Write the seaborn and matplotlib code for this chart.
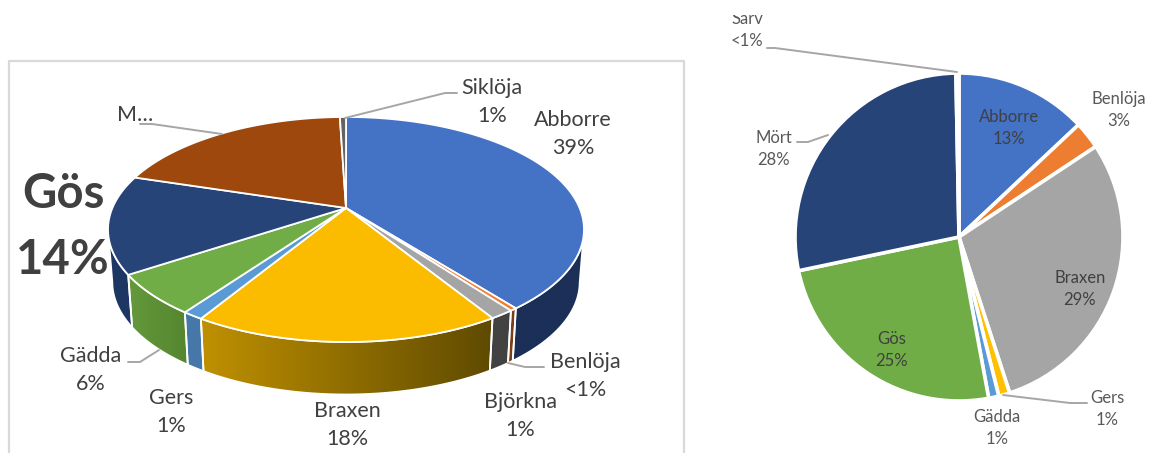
import numpy as np
import matplotlib
matplotlib.use("Agg")
import matplotlib.pyplot as plt
import matplotlib.transforms as mtransforms
from matplotlib.colors import LinearSegmentedColormap
from matplotlib.patches import Polygon
from matplotlib.path import Path
import seaborn as sns

# ---- data ----
left_species = ["Abborre", "Benlöja", "Björkna", "Braxen", "Gers", "Gädda", "Gös", "Mört", "Siklöja"]
left_values = [39.4, 0.4, 1.4, 17.5, 1.2, 5.8, 14.1, 19.7, 0.5]
left_pct = ["39%", "<1%", "1%", "18%", "1%", "6%", "14%", "", "1%"]
right_species = ["Abborre", "Benlöja", "Braxen", "Gers", "Gädda", "Gös", "Mört", "Sarv"]
right_values = [13.0, 2.7, 29.3, 1.1, 1.0, 24.6, 28.0, 0.3]
right_pct = ["13%", "3%", "29%", "1%", "1%", "25%", "28%", "<1%"]

# ---- styles ----
left_colors = sns.color_palette(["#4472C4", "#ED7D31", "#A5A5A5", "#FBBC00", "#5B9BD5",
                                 "#70AD47", "#264478", "#9E480E", "#636363"])
left_wall = [("#1B2F57", "#1B2F57"), ("#7A3F18", "#7A3F18"), ("#424242", "#424242"),
             ("#BF9000", "#5F4A00"), ("#4678A8", "#4678A8"), ("#64993C", "#55862F"),
             ("#1D3763", "#1D3763"), ("#5E2B08", "#5E2B08"), ("#3A3A3A", "#3A3A3A")]
right_colors = sns.color_palette(["#4472C4", "#ED7D31", "#A5A5A5", "#FFC000", "#5B9BD5",
                                  "#70AD47", "#264478", "#9E480E"])
TXT = "#404040"
SOFT = "#595959"
LEAD = "#A6A6A6"
H = 453

sns.set_theme(style="white")
plt.rcParams["font.family"] = ["Lato", "DejaVu Sans"]

fig = plt.figure(figsize=(11.53, 4.53), dpi=100)
ax = fig.add_axes([0, 0, 1, 1])

APEX_X, APEX_Y, A, B, K = 346.0, H - 208.0, 233.6, 108.4, 0.191
DX, DY = 0.982, 52.5


def tilt(xy):
    xy = np.asarray(xy, float)
    w = 1 + K * xy[:, 1]
    return np.column_stack([APEX_X + A * xy[:, 0] / w, APEX_Y + B * xy[:, 1] / w])


class Tilt(mtransforms.Transform):
    """Perspective view of the unit pie, in figure pixels."""
    input_dims = output_dims = 2
    is_separable = False
    has_inverse = False

    def transform_non_affine(self, values):
        return tilt(values)

    def transform_path_non_affine(self, path):
        big = path.transformed(mtransforms.Affine2D().scale(2000))
        polys = big.to_polygons(closed_only=False)
        return Path(tilt(polys[0] / 2000), closed=True)


# ---- left pie: top face ----
left_wedges, _ = ax.pie(left_values, colors=left_colors, startangle=90, counterclock=False,
                        frame=True, radius=1.0, center=(0, 0),
                        wedgeprops=dict(edgecolor="white", linewidth=1.3, zorder=5))
tilt_tr = Tilt() + ax.transData
for w in left_wedges:
    w.set_transform(tilt_tr)

# ---- left pie: side wall (only the part of each slice's rim that faces the viewer) ----
for w, (c0, c1) in zip(left_wedges, left_wall):
    th = np.radians(np.linspace(w.theta1, w.theta2, 400))
    th = th[np.sin(th) <= -K]
    if th.size < 2:
        continue
    rim = tilt(np.column_stack([np.cos(th), np.sin(th)]))
    low = np.column_stack([APEX_X + (rim[:, 0] - APEX_X) * DX, rim[:, 1] - DY])
    poly = np.vstack([rim, low[::-1]])
    patch = Polygon(poly, closed=True, facecolor="none", edgecolor="white", linewidth=1.3, zorder=3)
    ax.add_patch(patch)
    cmap = LinearSegmentedColormap.from_list("wall", [c0, c1])
    ext = (poly[:, 0].min(), poly[:, 0].max(), poly[:, 1].min(), poly[:, 1].max())
    im = ax.imshow(np.linspace(0, 1, 256)[None, :], cmap=cmap, extent=ext, aspect="auto",
                   zorder=2, interpolation="bilinear")
    im.set_clip_path(patch)

# ---- right pie ----
ax.pie(right_values, colors=right_colors, startangle=90, counterclock=False, frame=True,
       radius=164, center=(959, H - 237),
       wedgeprops=dict(edgecolor="white", linewidth=2.6, zorder=5))


def label(name, pct, x, y, size, color=TXT, weight="normal", gap=1.4):
    text = name if not pct else name + "\n" + pct
    ax.text(x, H - y, text, ha="center", va="center", fontsize=size, color=color,
            weight=weight, linespacing=gap, zorder=8)


def leader(pts):
    p = np.array(pts, float)
    ax.plot(p[:, 0], H - p[:, 1], color=LEAD, lw=1.4, solid_joinstyle="round", zorder=7)


L = dict(zip(left_species, left_pct))
R = dict(zip(right_species, right_pct))
FS = 15.5
GL = 1.5
label("Siklöja", L["Siklöja"], 492, 102, FS, gap=GL)
label("Abborre", L["Abborre"], 573, 134, FS, gap=GL)
label("Benlöja", L["Benlöja"], 585, 376, FS, gap=GL)
label("Björkna", L["Björkna"], 520, 416, FS, gap=GL)
label("Braxen", L["Braxen"], 347, 425, FS, gap=GL)
label("Gers", L["Gers"], 171, 412, FS, gap=GL)
label("Gädda", L["Gädda"], 91, 370, FS, gap=GL)
label("M…", "", 135, 115, FS)
label("Gös", L["Gös"], 63, 227, 34, weight="bold", gap=1.62)

FR = 12
label("Sarv", R["Sarv"], 747, 30, FR, SOFT)
label("Abborre", R["Abborre"], 1009, 128, FR, TXT)
label("Benlöja", R["Benlöja"], 1119, 110, FR, SOFT)
label("Mört", R["Mört"], 774, 149, FR, SOFT)
label("Braxen", R["Braxen"], 1080, 289, FR, TXT)
label("Gös", R["Gös"], 892, 350, FR, TXT)
label("Gers", R["Gers"], 1107, 409, FR, SOFT)
label("Gädda", R["Gädda"], 997, 428, FR, SOFT)

leader([(345, 118), (445, 93), (457, 93)])
leader([(222, 134), (152, 124), (140, 124)])
leader([(159, 350), (140, 362), (128, 362)])
leader([(508, 363), (525, 367), (544, 367)])
leader([(957, 72), (775, 48), (767, 48)])
leader([(828, 135), (808, 142), (797, 142)])
leader([(1003, 395), (1070, 403), (1087, 403)])

# cropped top of the right picture
ax.fill_between([700, 830], H - 15, H, color="white", lw=0, zorder=9)

# frame of the left chart, cut by the bottom of the picture
ax.plot([9, 9, 684, 684], [0, H - 61, H - 61, 0], color="#D9D9D9", lw=1.6, zorder=1)

ax.set_xlim(0, 1153)
ax.set_ylim(0, H)
ax.set_aspect("auto")
ax.axis("off")
fig.savefig("out.png", dpi=100, facecolor="white")
